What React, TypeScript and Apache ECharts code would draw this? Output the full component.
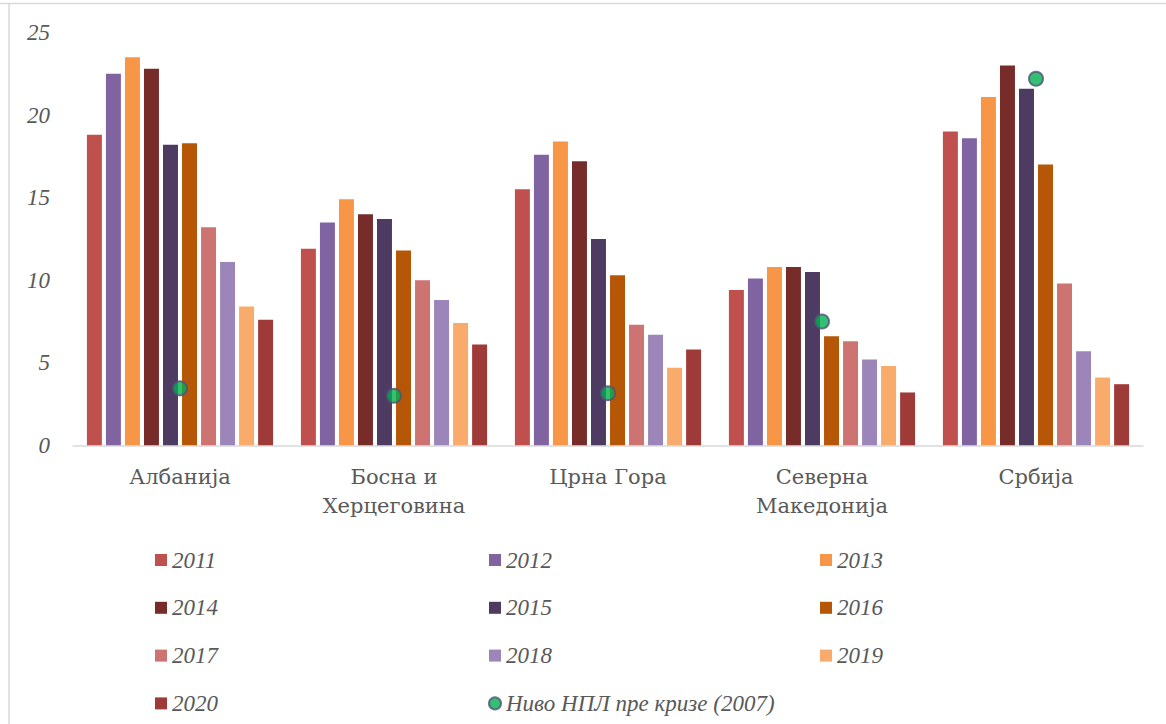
import React, { useEffect, useRef } from "react";
import * as echarts from "echarts";

const categories = ["Албанија", "Босна и\nХерцеговина", "Црна Гора", "Северна\nМакедонија", "Србија"];
const years = ["2011", "2012", "2013", "2014", "2015", "2016", "2017", "2018", "2019", "2020"];
const colors = ["#C0504D", "#8064A2", "#F79646", "#772C2A", "#4D3B62", "#B65708", "#CD7371", "#9C85B8", "#F9AB6B", "#9E3A38"];

// values by country, ordered 2011..2020
const albania = [18.8, 22.5, 23.5, 22.8, 18.2, 18.3, 13.2, 11.1, 8.4, 7.6];
const bosnia = [11.9, 13.5, 14.9, 14.0, 13.7, 11.8, 10.0, 8.8, 7.4, 6.1];
const montenegro = [15.5, 17.6, 18.4, 17.2, 12.5, 10.3, 7.3, 6.7, 4.7, 5.8];
const northMacedonia = [9.4, 10.1, 10.8, 10.8, 10.5, 6.6, 6.3, 5.2, 4.8, 3.2];
const serbia = [19.0, 18.6, 21.1, 23.0, 21.6, 17.0, 9.8, 5.7, 4.1, 3.7];
const preCrisis = [3.45, 3.0, 3.15, 7.5, 22.2];
const preCrisisName = "Ниво НПЛ пре кризе (2007)";
const yTicks = { min: 0, max: 25, interval: 5 };

const countries = [albania, bosnia, montenegro, northMacedonia, serbia];

const serif = "'Liberation Serif', 'DejaVu Serif', serif";
const catFont = "'DejaVu Serif', serif";
const gray = "#595959";

export default function App() {
  const ref = useRef<HTMLDivElement>(null);
  useEffect(() => {
    if (!ref.current) return;
    const chart = echarts.init(ref.current, undefined, { renderer: "svg" });
    const barSeries = years.map((y, i) => ({
      name: y,
      type: "bar",
      data: countries.map((c) => c[i]),
      itemStyle: { color: colors[i] },
      barGap: "27%",
      barCategoryGap: "13%",
    }));
    const legendText = { fontFamily: serif, fontStyle: "italic", fontSize: 23, color: gray, lineHeight: 24 };
    const legendBase = {
      orient: "vertical",
      top: 543,
      height: 240,
      itemWidth: 12,
      itemHeight: 12,
      itemGap: 23.8,
      textStyle: legendText,
      icon: "rect",
    };
    chart.setOption({
      animation: false,
      backgroundColor: "#ffffff",
      grid: { left: 73, top: 32.5, width: 1070, height: 412.8, containLabel: false },
      xAxis: {
        type: "category",
        data: categories,
        axisLine: { lineStyle: { color: "#D9D9D9", width: 1.5 } },
        axisTick: { show: false },
        axisLabel: { fontFamily: catFont, fontSize: 21, color: gray, lineHeight: 29, margin: 17 },
        splitLine: { show: false },
      },
      yAxis: {
        type: "value",
        min: yTicks.min,
        max: yTicks.max,
        interval: yTicks.interval,
        axisLine: { show: false },
        axisTick: { show: false },
        splitLine: { show: false },
        axisLabel: { fontFamily: serif, fontStyle: "italic", fontSize: 23, color: gray, margin: 23 },
      },
      legend: [
        { ...legendBase, left: 150, data: ["2011", "2014", "2017", "2020"] },
        { ...legendBase, left: 483, data: ["2012", "2015", "2018", { name: preCrisisName, icon: "circle" }] },
        { ...legendBase, left: 815, data: ["2013", "2016", "2019"] },
      ],
      series: [
        ...barSeries,
        {
          name: preCrisisName,
          type: "scatter",
          data: preCrisis,
          symbol: "circle",
          symbolSize: 14,
          z: 5,
          itemStyle: { color: "#00B050", borderColor: "#4F5378", borderWidth: 2 },
        },
      ],
      graphic: [
        { type: "line", shape: { x1: 0, y1: 3.5, x2: 1166, y2: 3.5 }, style: { stroke: "#D9D9D9", lineWidth: 1.5 } },
        { type: "line", shape: { x1: 9, y1: 3.5, x2: 9, y2: 724 }, style: { stroke: "#D9D9D9", lineWidth: 1.5 } },
      ],
    });
    return () => chart.dispose();
  }, []);
  return (
    <div
      ref={ref}
      style={{ position: "absolute", left: 0, top: 0, width: 1166, height: 724, background: "#fff" }}
    />
  );
}
